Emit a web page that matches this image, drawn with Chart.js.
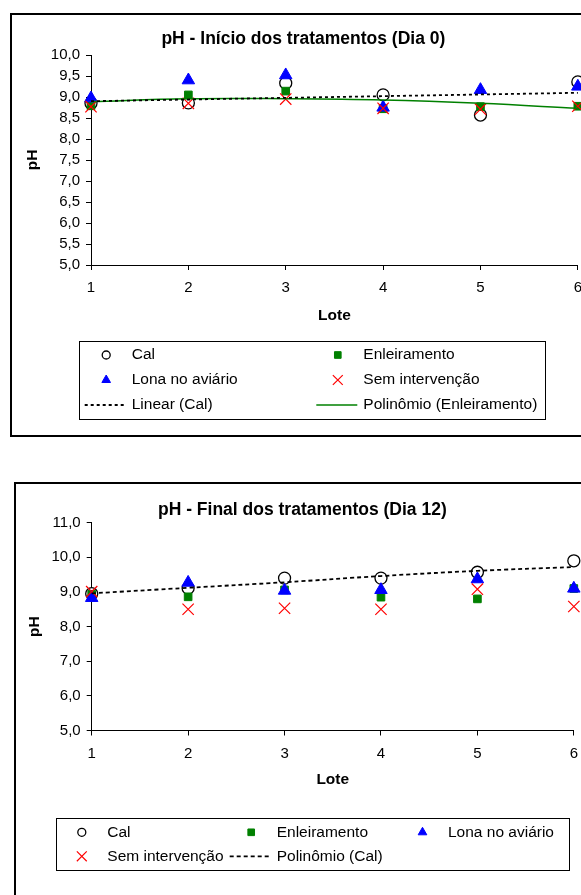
<!DOCTYPE html>
<html>
<head>
<meta charset="utf-8">
<script src="https://cdn.jsdelivr.net/npm/chart.js@4/dist/chart.umd.min.js"></script>
<style>
html, body { margin: 0; padding: 0; background: #fff; overflow: hidden; width: 581px; height: 895px; }
.frame { position: absolute; border: 2px solid #000; box-sizing: border-box; }
#f1 { left: 10px; top: 13px; width: 600px; height: 424px; }
#f2 { left: 14px; top: 482px; width: 600px; height: 500px; }
canvas { position: absolute; }
#c1 { left: 11px; top: 14px; }
#c2 { left: 15px; top: 483px; }
</style>
</head>
<body>
<div class="frame" id="f1"></div>
<div class="frame" id="f2"></div>
<canvas id="c1" width="580" height="422" style="width:580px;height:422px"></canvas>
<canvas id="c2" width="572" height="430" style="width:572px;height:430px"></canvas>
<script>
// Lotes (x axis)
const lotes = [1, 2, 3, 4, 5, 6];
const seriesNames = ['Cal', 'Enleiramento', 'Lona no aviário', 'Sem intervenção'];

// Dia 0
const cal0 = [8.85, 8.86, 9.33, 9.05, 8.57, 9.36];
const enleiramento0 = [8.79, 9.05, 9.14, 8.72, 8.77, 8.78];
const lona0 = [8.97, 9.40, 9.52, 8.75, 9.17, 9.25];
const sem0 = [8.77, 8.85, 8.95, 8.73, 8.71, 8.78];
const linearCalEnds0 = [8.90, 9.10];          // trend at lote 1 and lote 6
const poliEnl0 = [8.89, 8.96, 8.96, 8.93, 8.85, 8.73];

// Dia 12
const cal12 = [8.95, 9.11, 9.40, 9.40, 9.57, 9.90];
const enleiramento12 = [8.93, 8.86, 9.06, 8.85, 8.80, 9.10];
const lona12 = [8.83, 9.27, 9.04, 9.06, 9.37, 9.10];
const sem12 = [9.01, 8.50, 8.53, 8.50, 9.08, 8.58];
const poliCal12 = [8.96, 9.12, 9.28, 9.46, 9.61, 9.72];

const FONT = "'Liberation Sans', Arial, sans-serif";
Chart.defaults.font.family = FONT;
Chart.defaults.color = '#000';

const pts = (ys) => lotes.map((x, i) => ({ x: x, y: ys[i] }));

// boxed legend drawn in a grid, like the Excel one
const boxLegend = {
  id: 'boxLegend',
  afterDraw(chart, args, opts) {
    if (!opts.box) return;
    const ctx = chart.ctx;
    const [x1, y1, x2, y2] = opts.box;
    ctx.save();
    ctx.strokeStyle = '#000';
    ctx.lineWidth = 1;
    ctx.strokeRect(Math.round(x1) + 0.5, Math.round(y1) + 0.5, Math.round(x2 - x1), Math.round(y2 - y1));
    ctx.font = '15.5px ' + FONT;
    ctx.textBaseline = 'middle';
    ctx.textAlign = 'left';
    opts.items.forEach((idx, i) => {
      const ds = chart.data.datasets[idx];
      const tx = opts.cols[i % opts.cols.length];
      const ty = opts.rows[Math.floor(i / opts.cols.length)];
      if (ds.showLine) {
        ctx.strokeStyle = ds.borderColor;
        ctx.lineWidth = ds.borderWidth;
        ctx.setLineDash(ds.borderDash || []);
        ctx.beginPath();
        ctx.moveTo(tx - 47, ty);
        ctx.lineTo(tx - 6, ty);
        ctx.stroke();
        ctx.setLineDash([]);
      } else {
        ctx.strokeStyle = ds.borderColor;
        ctx.fillStyle = ds.backgroundColor;
        ctx.lineWidth = ds.borderWidth;
        Chart.helpers.drawPoint(ctx, { pointStyle: ds.pointStyle, radius: ds.legendRadius, rotation: 0, borderWidth: ds.borderWidth }, tx - 25.5, ty);
      }
      ctx.fillStyle = '#000';
      ctx.fillText(ds.label, tx, ty);
    });
    ctx.restore();
  }
};

function markerSets(cal, enl, lona, sem) {
  return [
    { label: seriesNames[0], data: pts(cal), pointStyle: 'circle', pointRadius: 6, legendRadius: 4,
      borderColor: '#000', backgroundColor: '#fff', borderWidth: 1.3, showLine: false, order: 4, clip: false },
    { label: seriesNames[1], data: pts(enl), pointStyle: 'rect', pointRadius: 5.4, legendRadius: 4.7,
      borderColor: '#008000', backgroundColor: '#008000', borderWidth: 1, showLine: false, order: 3, clip: false },
    { label: seriesNames[2], data: pts(lona), pointStyle: 'triangle', pointRadius: 7.2, legendRadius: 5,
      borderColor: '#0000ff', backgroundColor: '#0000ff', borderWidth: 1, showLine: false, order: 2, clip: false },
    { label: seriesNames[3], data: pts(sem), pointStyle: 'crossRot', pointRadius: 8, legendRadius: 7,
      borderColor: '#ff0000', backgroundColor: '#ff0000', borderWidth: 1.2, showLine: false, order: 1, clip: false }
  ];
}

function scalesFor(yMin, yMax, yStep, yWidth, xHeight) {
  return {
    x: {
      type: 'linear', min: 1, max: 6,
      ticks: { stepSize: 1, padding: 9, font: { size: 15 }, color: '#000' },
      grid: { drawOnChartArea: false, tickLength: 5, color: '#000', lineWidth: 1 },
      border: { color: '#000', width: 1 },
      title: { display: true, text: 'Lote', font: { size: 15.5, weight: 'bold' }, color: '#000', padding: 0 },
      afterFit: (s) => { s.height = xHeight; }
    },
    y: {
      min: yMin, max: yMax,
      ticks: { stepSize: yStep, padding: 6, font: { size: 15 }, color: '#000',
        callback: (v) => v.toFixed(1).replace('.', ',') },
      grid: { drawOnChartArea: false, tickLength: 5, color: '#000', lineWidth: 1 },
      border: { color: '#000', width: 1 },
      title: { display: true, text: 'pH', font: { size: 15.5, weight: 'bold' }, color: '#000', padding: 0 },
      afterFit: (s) => { s.width = yWidth; }
    }
  };
}

// Chart 1 - Dia 0
new Chart(document.getElementById('c1'), {
  type: 'scatter',
  data: {
    datasets: markerSets(cal0, enleiramento0, lona0, sem0).concat([
      { label: 'Linear (Cal)', data: [{ x: lotes[0], y: linearCalEnds0[0] }, { x: lotes[5], y: linearCalEnds0[1] }],
        showLine: true, pointRadius: 0, borderColor: '#000', borderWidth: 1.8, borderDash: [3, 3], order: 0, clip: false },
      { label: 'Polinômio (Enleiramento)', data: pts(poliEnl0),
        showLine: true, pointRadius: 0, borderColor: '#008000', borderWidth: 1.5, tension: 0.4, order: 0, clip: false }
    ])
  },
  options: {
    responsive: false,
    animation: false,
    layout: { padding: { left: 12.7, right: 8, top: 0, bottom: 111 } },
    scales: scalesFor(5, 10, 0.5, 67.3, 60),
    plugins: {
      legend: { display: false },
      tooltip: { enabled: false },
      title: { display: true, text: 'pH - Início dos tratamentos (Dia 0)', color: '#000',
        font: { size: 17.5, weight: 'bold' }, padding: { top: 15, bottom: 5 } },
      boxLegend: { box: [68.3, 327, 534, 405], cols: [120.7, 352.3], rows: [341, 366, 391], items: [0, 1, 2, 3, 4, 5] }
    }
  },
  plugins: [boxLegend]
});

// Chart 2 - Dia 12
new Chart(document.getElementById('c2'), {
  type: 'scatter',
  data: {
    datasets: markerSets(cal12, enleiramento12, lona12, sem12).concat([
      { label: 'Polinômio (Cal)', data: pts(poliCal12),
        showLine: true, pointRadius: 0, borderColor: '#000', borderWidth: 1.8, borderDash: [4, 3], tension: 0.4, order: 0, clip: false }
    ])
  },
  options: {
    responsive: false,
    animation: false,
    layout: { padding: { left: 10.7, right: 8, top: 0, bottom: 123.5 } },
    scales: scalesFor(5, 11, 1, 66, 59),
    plugins: {
      legend: { display: false },
      tooltip: { enabled: false },
      title: { display: true, text: 'pH - Final dos tratamentos (Dia 12)', color: '#000',
        font: { size: 17.5, weight: 'bold' }, padding: { top: 16.5, bottom: 2.2 } },
      boxLegend: { box: [40.7, 335, 553.5, 387], cols: [92.3, 261.7, 433], rows: [349.3, 373.3], items: [0, 1, 2, 3, 4] }
    }
  },
  plugins: [boxLegend]
});
</script>
</body>
</html>
